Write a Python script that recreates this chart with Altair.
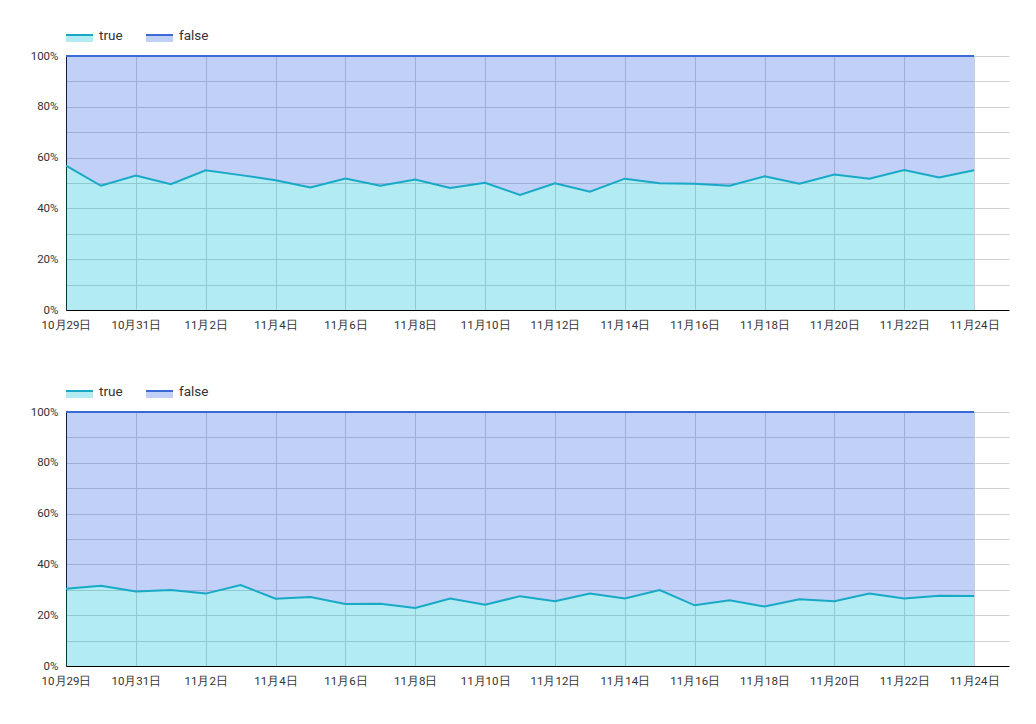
import altair as alt
import pandas as pd

DATES = pd.date_range("2023-10-29", "2023-11-24", freq="D").strftime("%Y-%m-%d").tolist()

TOP_TRUE = [56.8, 48.9, 52.9, 49.5, 55.0, 53.1, 51.1, 48.2, 51.8, 48.9, 51.4, 48.0, 50.1, 45.3,
            49.9, 46.6, 51.7, 49.9, 49.7, 48.9, 52.6, 49.7, 53.3, 51.7, 55.1, 52.2, 55.0]
BOTTOM_TRUE = [30.4, 31.6, 29.3, 29.9, 28.5, 31.9, 26.5, 27.2, 24.4, 24.5, 22.8, 26.6, 24.1, 27.5,
               25.5, 28.5, 26.6, 29.9, 23.9, 25.9, 23.4, 26.3, 25.5, 28.5, 26.6, 27.7, 27.6]

SERIES = ["true", "false"]
X_TICKS = DATES[::2]
X_DOMAIN = ["2023-10-29", "2023-11-25"]
Y_TICKS = [i / 10 for i in range(11)]

FONT = "Roboto"
TRUE_FILL = "#00bcd4"
TRUE_LINE = "#17a9c6"
FALSE_FILL = "#2d62e4"
FALSE_LINE = "#3a6ad6"


def panel(true_vals):
    df = pd.DataFrame({
        "date": DATES,
        "t": [v / 100 for v in true_vals],
    })
    df["one"] = 1.0
    df["zero"] = 0.0

    x_axis = alt.Axis(values=X_TICKS, format="%-m月%-d日", labelAngle=0,
                      title=None, grid=True, gridColor="#cfcfcf",
                      domainColor="#000000", domainWidth=1, ticks=False,
                      labelPadding=9, labelFontSize=11.5, labelFont=FONT,
                      labelColor="#333333", labelOverlap=False, labelFlush=False)
    x_scale = alt.Scale(type="utc", domain=X_DOMAIN)
    y_axis = alt.Axis(values=Y_TICKS, title=None, grid=True, gridColor="#cfcfcf",
                      labelExpr="round(datum.value*10) % 2 == 0 ? format(datum.value, '.0%') : ''",
                      domainColor="#000000", ticks=False, labelPadding=8,
                      labelFontSize=11.5, labelFont=FONT, labelColor="#333333",
                      labelOverlap=False, labelFlush=False)
    y_scale = alt.Scale(domain=[0, 1], nice=False)

    def X():
        return alt.X("date:T", scale=x_scale, axis=x_axis)

    def Y(field):
        return alt.Y(field, scale=y_scale, axis=y_axis)

    base = alt.Chart(df)
    false_area = base.mark_area(color=FALSE_FILL, opacity=0.3).encode(
        x=X(), y=Y("t:Q"), y2="one:Q")
    true_area = base.mark_area(color=TRUE_FILL, opacity=0.3).encode(
        x=X(), y=Y("zero:Q"), y2="t:Q")
    false_line = base.mark_line(color=FALSE_LINE, strokeWidth=2).encode(
        x=X(), y=Y("one:Q"))
    true_line = base.mark_line(color=TRUE_LINE, strokeWidth=2).encode(
        x=X(), y=Y("t:Q"))

    layers = [false_area, true_area, false_line, true_line]

    fills = {"true": TRUE_FILL, "false": FALSE_FILL}
    lines = {"true": TRUE_LINE, "false": FALSE_LINE}
    for i, s in enumerate(SERIES):
        x0 = i * 80
        ld = alt.Chart(pd.DataFrame({"label": [s]}))
        layers.append(ld.mark_rect(color=fills[s], opacity=0.3).encode(
            x=alt.value(x0), x2=alt.value(x0 + 27), y=alt.value(-21), y2=alt.value(-14)))
        layers.append(ld.mark_rule(color=lines[s], strokeWidth=2).encode(
            x=alt.value(x0), x2=alt.value(x0 + 27), y=alt.value(-21)))
        layers.append(ld.mark_text(align="left", baseline="middle", fontSize=13.5,
                                   font=FONT, color="#333333").encode(
            x=alt.value(x0 + 33), y=alt.value(-20), text="label:N"))

    return alt.layer(*layers).properties(width=943, height=254)


chart = alt.vconcat(panel(TOP_TRUE), panel(BOTTOM_TRUE), spacing=54).properties(
    padding={"left": 22, "top": 21, "right": 5, "bottom": 5}
).configure_view(stroke=None)

chart.save("out.html", embed_options={"renderer": "svg", "actions": False})
